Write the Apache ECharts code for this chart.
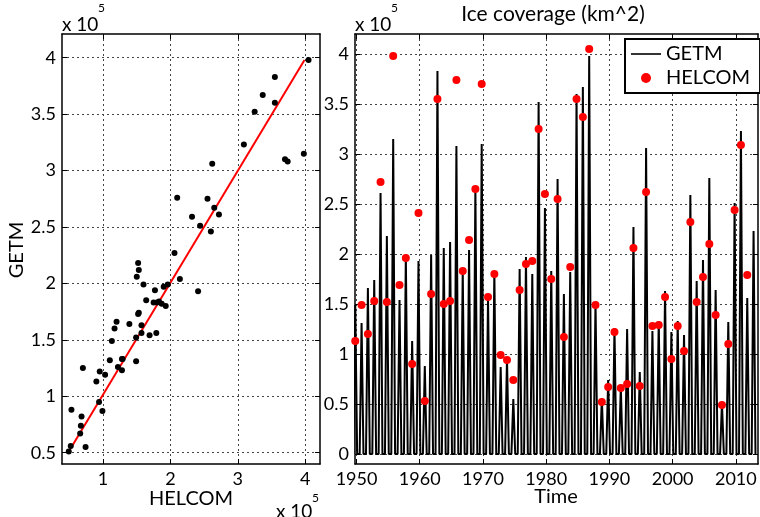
<!DOCTYPE html>
<html>
<head>
<meta charset="utf-8">
<script src="https://cdn.jsdelivr.net/npm/echarts@6/dist/echarts.min.js"></script>
<style>
  html, body { margin: 0; padding: 0; background: #fff; }
  #chart { width: 760px; height: 517px; }
</style>
</head>
<body>
<div id="chart"></div>
<script>
// Baltic ice coverage: GETM model vs HELCOM observations (values in 1e5 km^2)
const seasons = [1950, 1951, 1952, 1953, 1954, 1955, 1956, 1957, 1958, 1959,
    1960, 1961, 1962, 1963, 1964, 1965, 1966, 1967, 1968, 1969,
    1970, 1971, 1972, 1973, 1974, 1975, 1976, 1977, 1978, 1979,
    1980, 1981, 1982, 1983, 1984, 1985, 1986, 1987, 1988, 1989,
    1990, 1991, 1992, 1993, 1994, 1995, 1996, 1997, 1998, 1999,
    2000, 2001, 2002, 2003, 2004, 2005, 2006, 2007, 2008, 2009,
    2010, 2011, 2012, 2013];

// yearly maximum of the GETM ice extent (one per season, incl. 2013)
const getmPeak = [1.49, 1.31, 1.66, 1.74, 2.61, 2.18, 3.15, 1.54, 1.99, 1.13,
    1.93, 0.88, 1.99, 3.83, 2.06, 2.12, 3.08, 1.84, 2.04, 2.67,
    3.10, 1.56, 1.83, 0.87, 0.95, 0.55, 1.85, 1.97, 1.80, 3.52,
    2.46, 1.83, 2.75, 1.60, 1.82, 3.60, 3.67, 3.98, 1.52, 0.56,
    0.74, 1.26, 0.67, 1.25, 2.27, 0.82, 3.06, 1.23, 1.33, 1.63,
    1.22, 1.33, 1.19, 2.59, 1.73, 1.94, 2.76, 1.64, 0.51, 1.32,
    2.51, 3.23, 1.56, 2.23];

// HELCOM maximum ice extent, 1950..2012
const helcomPeak = [1.13, 1.49, 1.20, 1.53, 2.72, 1.52, 3.98, 1.69, 1.96, 0.90,
    2.41, 0.53, 1.60, 3.55, 1.50, 1.53, 3.74, 1.83, 2.14, 2.65,
    3.70, 1.57, 1.80, 0.99, 0.94, 0.74, 1.64, 1.90, 1.93, 3.25,
    2.60, 1.75, 2.55, 1.17, 1.87, 3.55, 3.37, 4.05, 1.49, 0.52,
    0.67, 1.22, 0.66, 0.70, 2.06, 0.68, 2.62, 1.28, 1.29, 1.57,
    0.95, 1.28, 1.03, 2.32, 1.52, 1.77, 2.10, 1.39, 0.49, 1.10,
    2.44, 3.09, 1.79];

// red fit line in the scatter panel (HELCOM, GETM)
const fitX = [0.48, 3.99];
const fitY = [0.50, 3.98];

const timeTicks = [1950, 1960, 1970, 1980, 1990, 2000, 2010];
const iceTicks = [0, 0.5, 1, 1.5, 2, 2.5, 3, 3.5, 4];
const helcomTicks = [1, 2, 3, 4];
const getmTicks = [0.5, 1, 1.5, 2, 2.5, 3, 3.5, 4];

// season peak sits a little before the new year on the time axis
const peakShift = -0.2;
const halfSeason = 0.3;

const FONT = "Lato, 'Liberation Sans', sans-serif";

const getmLine = [];
seasons.forEach((s, i) => {
    const t = s + peakShift;
    getmLine.push([t - halfSeason, 0], [t, getmPeak[i]], [t + halfSeason, 0]);
});
const helcomDots = helcomPeak.map((v, i) => [seasons[i] + peakShift, v]);
const scatterPts = helcomPeak.map((h, i) => [h, getmPeak[i]]);

function valueAxis(gridIndex, position, min, max, ticks, showLabel) {
    return {
        type: "value", gridIndex: gridIndex, position: position,
        min: min, max: max,
        axisLine: { show: true, onZero: false, lineStyle: { color: "#000", width: 1.5 } },
        axisTick: { show: true, inside: true, length: 5, customValues: ticks, lineStyle: { color: "#000", width: 1 } },
        axisLabel: {
            show: showLabel, customValues: ticks, color: "#000", fontSize: 18, fontFamily: FONT, margin: 6,
            formatter: v => String(Math.round(v * 10) / 10)
        },
        splitLine: {
            show: showLabel,
            lineStyle: { color: "#444", type: [2, 3], width: 1 }
        }
    };
}

function label(x, y, text, size, extra) {
    return { type: "text", x: x, y: y, z: 10, ...(extra || {}),
        style: { text: text, fill: "#000", font: size + "px " + FONT, ...((extra && extra.style) || {}) } };
}

const chart = echarts.init(document.getElementById("chart"), null, { renderer: "canvas" });

chart.setOption({
    animation: false,
    backgroundColor: "#fff",
    textStyle: { fontFamily: FONT },
    grid: [
        { left: 62, top: 34, width: 258, height: 430 },
        { left: 355, top: 34, width: 403, height: 430 }
    ],
    xAxis: [
        valueAxis(0, "bottom", 0.39, 4.22, helcomTicks, true),
        valueAxis(0, "top", 0.39, 4.22, helcomTicks, false),
        valueAxis(1, "bottom", 1949.76, 2013.5, timeTicks, true),
        valueAxis(1, "top", 1949.76, 2013.5, timeTicks, false)
    ],
    yAxis: [
        valueAxis(0, "left", 0.40, 4.21, getmTicks, true),
        valueAxis(0, "right", 0.40, 4.21, getmTicks, false),
        valueAxis(1, "left", -0.1, 4.2, iceTicks, true),
        valueAxis(1, "right", -0.1, 4.2, iceTicks, false)
    ],
    legend: {
        show: true,
        orient: "vertical", left: 625, top: 39, width: 128,
        backgroundColor: "#fff", borderColor: "#000", borderWidth: 2,
        padding: [5, 10, 5, 6], itemGap: 4, itemWidth: 30, itemHeight: 10,
        textStyle: { color: "#000", fontSize: 20, fontFamily: FONT },
        data: [
            // thin bar inside a 30x10 box, so the sample reads as a line
            { name: "GETM", icon: "path://M0,0L0,0M0,4.2L30,4.2L30,5.8L0,5.8ZM30,10L30,10", itemStyle: { color: "#000" } },
            { name: "HELCOM", icon: "circle", itemStyle: { color: "#ff0000" } }
        ]
    },
    series: [
        {
            name: "scatter", type: "scatter", xAxisIndex: 0, yAxisIndex: 0,
            data: scatterPts, symbolSize: 6, itemStyle: { color: "#000", opacity: 1 }, z: 3
        },
        {
            name: "fit", type: "line", xAxisIndex: 0, yAxisIndex: 0,
            data: fitX.map((x, i) => [x, fitY[i]]), symbol: "none",
            lineStyle: { color: "#ff0000", width: 2 }, z: 2
        },
        {
            name: "GETM", type: "line", xAxisIndex: 2, yAxisIndex: 2,
            data: getmLine, symbol: "none",
            lineStyle: { color: "#000", width: 2 }, z: 2
        },
        {
            name: "HELCOM", type: "scatter", xAxisIndex: 2, yAxisIndex: 2,
            data: helcomDots, symbolSize: 8, itemStyle: { color: "#ff0000", opacity: 1 }, z: 3
        }
    ],
    graphic: [
        label(553, 14, "Ice coverage (km^2)", 21, { style: { align: "center", verticalAlign: "middle" } }),
        label(17, 250, "GETM", 20, { rotation: Math.PI / 2, style: { align: "center", verticalAlign: "middle" } }),
        label(191, 499, "HELCOM", 20, { style: { align: "center", verticalAlign: "middle" } }),
        label(556, 497, "Time", 20, { style: { align: "center", verticalAlign: "middle" } }),
        // "x 10^5" exponent markers
        label(62, 15, "x 10", 19),
        label(98, 2, "5", 12),
        label(355, 15, "x 10", 19),
        label(391, 2, "5", 12),
        label(276, 502, "x 10", 19),
        label(312, 492, "5", 12)
    ]
});

window.addEventListener("resize", () => chart.resize());
</script>
</body>
</html>
